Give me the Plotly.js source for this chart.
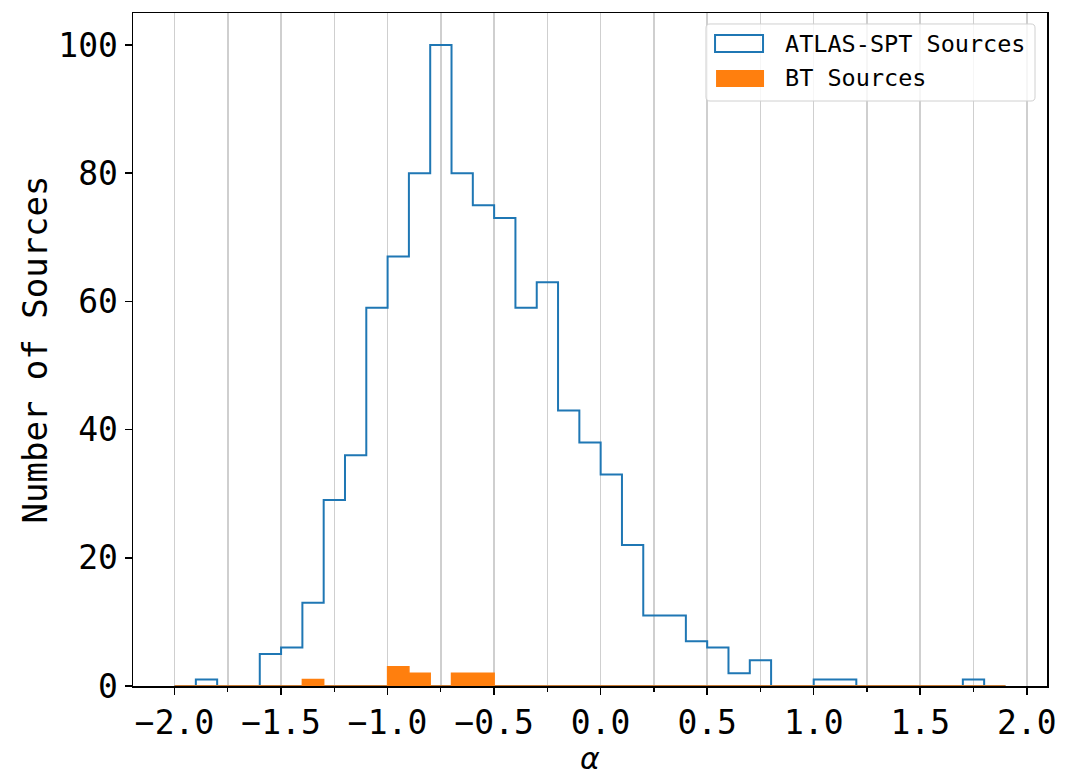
<!DOCTYPE html>
<html>
<head>
<meta charset="utf-8">
<script src="https://cdn.plot.ly/plotly-3.0.1.min.js"></script>
<style>html,body{margin:0;padding:0;background:#fff;}#chart{width:1065px;height:776px;}</style>
</head>
<body>
<div id="chart"></div>
<script>
// Histogram bin edges: -2.0 to 1.9 in steps of 0.1 (39 bins)
const binStart = -2.0;
const binWidth = 0.1;
const atlasCounts = [0, 1, 0, 0, 5, 6, 13, 29, 36, 59, 67, 80, 100, 80, 75, 73, 59, 63, 43, 38,
                     33, 22, 11, 11, 7, 6, 2, 4, 0, 0, 1, 1, 0, 0, 0, 0, 0, 1, 0];
const btCounts =    [0, 0, 0, 0, 0, 0, 1, 0, 0, 0, 3, 2, 0, 2, 2, 0, 0, 0, 0, 0,
                     0, 0, 0, 0, 0, 0, 0, 0, 0, 0, 0, 0, 0, 0, 0, 0, 0, 0, 0];
const seriesNames = ["ATLAS-SPT Sources", "BT Sources"];
const xTickVals = [-2.0, -1.5, -1.0, -0.5, 0.0, 0.5, 1.0, 1.5, 2.0];
const xTickText = ["\u22122.0", "\u22121.5", "\u22121.0", "\u22120.5", "0.0", "0.5", "1.0", "1.5", "2.0"];
const yTickVals = [0, 20, 40, 60, 80, 100];

function edgesFor(counts) {
  const e = [];
  for (let i = 0; i <= counts.length; i++) e.push(+(binStart + i * binWidth).toFixed(4));
  return e;
}
function stepPolygon(counts) {
  const e = edgesFor(counts);
  const x = [e[0]], y = [0];
  for (let i = 0; i < counts.length; i++) { x.push(e[i]); y.push(counts[i]); }
  x.push(e[counts.length]); y.push(counts[counts.length - 1]);
  x.push(e[counts.length]); y.push(0);
  x.push(e[0]); y.push(0);
  return {x, y};
}

const blue = '#1f77b4', orange = '#ff7f0e';
const mono = 'DejaVu Sans Mono';
const pA = stepPolygon(atlasCounts);
const pB = stepPolygon(btCounts);

const traces = [
  {x: pA.x, y: pA.y, type: 'scatter', mode: 'lines', line: {shape: 'hv', color: blue, width: 2},
   name: seriesNames[0], showlegend: false, hoverinfo: 'skip', cliponaxis: false},
  {x: pB.x, y: pB.y, type: 'scatter', mode: 'lines', line: {shape: 'hv', color: orange, width: 1.5},
   fill: 'toself', fillcolor: orange, name: seriesNames[1], showlegend: false, hoverinfo: 'skip', cliponaxis: false}
];

// manual legend (paper coords)
const L = {x0: 0.6269, x1: 0.9869, y0: 0.8692, y1: 0.9837, rx: 0.0044, ry: 0.006};
const legendPath = `M${L.x0 + L.rx},${L.y0} L${L.x1 - L.rx},${L.y0} Q${L.x1},${L.y0} ${L.x1},${L.y0 + L.ry} ` +
  `L${L.x1},${L.y1 - L.ry} Q${L.x1},${L.y1} ${L.x1 - L.rx},${L.y1} L${L.x0 + L.rx},${L.y1} ` +
  `Q${L.x0},${L.y1} ${L.x0},${L.y1 - L.ry} L${L.x0},${L.y0 + L.ry} Q${L.x0},${L.y0} ${L.x0 + L.rx},${L.y0} Z`;

const layout = {
  width: 1065, height: 776,
  margin: {l: 133, r: 18, t: 13, b: 90},
  paper_bgcolor: '#fff', plot_bgcolor: '#fff',
  showlegend: false,
  font: {family: mono, color: '#000'},
  xaxis: {
    range: [-2.195, 2.095],
    tickmode: 'array', tickvals: xTickVals, ticktext: xTickText,
    ticks: 'outside', ticklen: 7, tickwidth: 1.5, tickcolor: '#000',
    tickfont: {family: mono, size: 33, color: '#000'},
    showgrid: true, gridcolor: '#cfcfcf', gridwidth: 1.5,
    minor: {dtick: 0.25, tick0: 0, ticks: 'outside', ticklen: 4, tickwidth: 1.2, tickcolor: '#000',
            showgrid: true, gridcolor: '#cfcfcf', gridwidth: 1.5},
    showline: true, linecolor: '#000', linewidth: 1.5, mirror: true, zeroline: false,
    layer: 'below traces',
    title: {text: '<i>α</i>', font: {family: 'DejaVu Sans', size: 30, color: '#000'}, standoff: 6}
  },
  yaxis: {
    range: [0, 105],
    tickmode: 'array', tickvals: yTickVals,
    ticks: 'outside', ticklen: 7, tickwidth: 1.5, tickcolor: '#000',
    tickfont: {family: mono, size: 33, color: '#000'},
    showgrid: false,
    showline: true, linecolor: '#000', linewidth: 1.5, mirror: true, zeroline: false,
    layer: 'below traces',
    title: {text: 'Number of Sources', font: {family: mono, size: 34, color: '#000'}, standoff: 0}
  },
  shapes: [
    {type: 'path', xref: 'paper', yref: 'paper', path: legendPath, layer: 'above',
     fillcolor: 'rgba(255,255,255,0.8)', line: {color: '#d0d0d0', width: 1}},
    {type: 'rect', xref: 'paper', yref: 'paper', x0: 0.6368, x1: 0.6893, y0: 0.9421, y1: 0.9673,
     layer: 'above', line: {color: blue, width: 2}, fillcolor: 'rgba(0,0,0,0)'},
    {type: 'rect', xref: 'paper', yref: 'paper', x0: 0.6379, x1: 0.6904, y0: 0.8900, y1: 0.9153,
     layer: 'above', line: {width: 0}, fillcolor: orange}
  ],
  annotations: [
    {xref: 'paper', yref: 'paper', x: 0.7112, y: 0.9539, xanchor: 'left', yanchor: 'middle',
     text: seriesNames[0], showarrow: false, font: {family: mono, size: 23.5, color: '#000'}},
    {xref: 'paper', yref: 'paper', x: 0.7112, y: 0.9034, xanchor: 'left', yanchor: 'middle',
     text: seriesNames[1], showarrow: false, font: {family: mono, size: 23.5, color: '#000'}}
  ]
};

Plotly.newPlot('chart', traces, layout, {displayModeBar: false, staticPlot: true});
</script>
</body>
</html>
